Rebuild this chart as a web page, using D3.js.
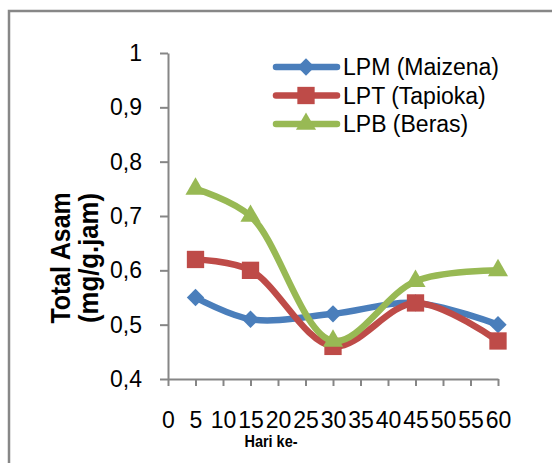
<!DOCTYPE html>
<html>
<head>
<meta charset="utf-8">
<script src="https://cdn.jsdelivr.net/npm/d3@7"></script>
<style>
  body { margin: 0; background: #fff; }
  svg { display: block; font-family: "Liberation Sans", Arial, sans-serif; }
</style>
</head>
<body>
<svg id="chart" width="552" height="463"></svg>
<script>
// data
const days = [5, 15, 30, 45, 60];
const lpm = [0.55, 0.51, 0.52, 0.54, 0.50];
const lpt = [0.62, 0.60, 0.46, 0.54, 0.47];
const lpb = [0.75, 0.70, 0.47, 0.58, 0.60];
const seriesNames = ['LPM (Maizena)', 'LPT (Tapioka)', 'LPB (Beras)'];
const xTicks = [0, 5, 10, 15, 20, 25, 30, 35, 40, 45, 50, 55, 60];
const yTicks = [0.4, 0.5, 0.6, 0.7, 0.8, 0.9, 1];

const colors = ['#4A7EBB', '#BE4B48', '#98B954'];
const shapes = ['diamond', 'square', 'triangle'];

const svg = d3.select('#chart');

// outer chart frame (cut off on the right and bottom)
svg.append('rect')
  .attr('x', 9).attr('y', 11)
  .attr('width', 700).attr('height', 600)
  .attr('fill', '#fff')
  .attr('stroke', '#878787')
  .attr('stroke-width', 2.5);

const x = d3.scaleLinear().domain([0, 60]).range([168, 498]);
const y = d3.scaleLinear().domain([0.4, 1]).range([379, 53]);

const fmtY = d => d === 1 ? '1' : d.toFixed(1).replace('.', ',');

const yAxis = svg.append('g')
  .attr('transform', `translate(${x(0)},0)`)
  .call(d3.axisLeft(y).tickValues(yTicks).tickFormat(fmtY)
    .tickSize(8).tickSizeOuter(0).tickPadding(18));

const xAxis = svg.append('g')
  .attr('transform', `translate(0,${y(0.4)})`)
  .call(d3.axisBottom(x).tickValues(xTicks).tickFormat(d => d)
    .tickSize(7).tickSizeOuter(0).tickPadding(26));

[yAxis, xAxis].forEach(g => {
  g.select('.domain').attr('stroke', '#868686').attr('stroke-width', 2);
  g.selectAll('.tick line').attr('stroke', '#868686').attr('stroke-width', 2);
  g.selectAll('.tick text')
    .attr('fill', '#000')
    .style('font-size', '23px')
    .style('font-family', '"Liberation Sans", Arial, sans-serif');
});

// axis titles
const yTitle = svg.append('g')
  .attr('transform', 'translate(70,258) rotate(-90)')
  .style('font-weight', 'bold')
  .style('font-size', '28px');
yTitle.append('text')
  .attr('text-anchor', 'middle')
  .attr('textLength', 131).attr('lengthAdjust', 'spacingAndGlyphs')
  .text('Total Asam');
yTitle.append('text')
  .attr('text-anchor', 'middle')
  .attr('y', 28)
  .attr('textLength', 130).attr('lengthAdjust', 'spacingAndGlyphs')
  .text('(mg/g.jam)');

svg.append('text')
  .attr('x', 271).attr('y', 447)
  .attr('text-anchor', 'middle')
  .style('font-weight', 'bold')
  .style('font-size', '17px')
  .attr('textLength', 53).attr('lengthAdjust', 'spacingAndGlyphs')
  .text('Hari ke-');

// markers
const markerPath = shape => {
  if (shape === 'diamond') return d3.symbol(d3.symbolSquare, 150)();
  if (shape === 'square') return d3.symbol(d3.symbolSquare, 300)();
  return d3.symbol(d3.symbolTriangle, 175)();
};
const markerRotate = shape => shape === 'diamond' ? ' rotate(45)' : '';

const line = d3.line()
  .x(d => x(d.day))
  .y(d => y(d.value))
  .curve(d3.curveCatmullRom.alpha(0.5));

const allSeries = [lpm, lpt, lpb].map((vals, i) => ({
  name: seriesNames[i],
  color: colors[i],
  shape: shapes[i],
  points: days.map((day, j) => ({ day, value: vals[j] }))
}));

allSeries.forEach(s => {
  const g = svg.append('g');
  g.append('path')
    .attr('d', line(s.points))
    .attr('fill', 'none')
    .attr('stroke', s.color)
    .attr('stroke-width', 6.5)
    .attr('stroke-linejoin', 'round')
    .attr('stroke-linecap', 'round');
  g.selectAll('path.marker')
    .data(s.points)
    .enter().append('path')
    .attr('class', 'marker')
    .attr('d', markerPath(s.shape))
    .attr('transform', d => `translate(${x(d.day)},${y(d.value)})${markerRotate(s.shape)}`)
    .attr('fill', s.color);
});

// legend
const legend = svg.append('g').attr('class', 'legend');
const legendRows = [67, 95.5, 124];
allSeries.forEach((s, i) => {
  const row = legend.append('g').attr('transform', `translate(0,${legendRows[i]})`);
  row.append('line')
    .attr('x1', 276).attr('x2', 337)
    .attr('stroke', s.color)
    .attr('stroke-width', 6.5)
    .attr('stroke-linecap', 'round');
  row.append('path')
    .attr('d', markerPath(s.shape))
    .attr('transform', `translate(306,0)${markerRotate(s.shape)}`)
    .attr('fill', s.color);
  row.append('text')
    .attr('x', 343).attr('y', 8)
    .style('font-size', '23px')
    .text(s.name);
});
</script>
</body>
</html>
